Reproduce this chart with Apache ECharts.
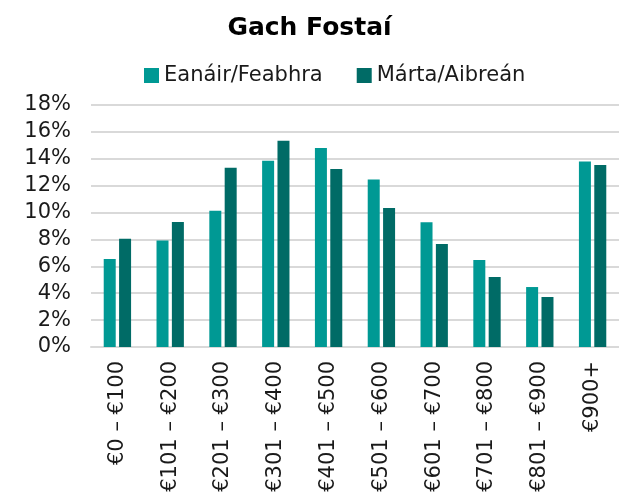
<!DOCTYPE html>
<html>
<head>
<meta charset="utf-8">
<script src="https://cdn.jsdelivr.net/npm/echarts@6/dist/echarts.min.js"></script>
<style>
  html, body { margin: 0; padding: 0; background: #fff; }
  #chart { width: 619px; height: 500px; }
</style>
</head>
<body>
<div id="chart"></div>
<script>
var categories = ['€0 – €100', '€101 – €200', '€201 – €300', '€301 – €400', '€401 – €500',
  '€501 – €600', '€601 – €700', '€701 – €800', '€801 – €900', '€900+'];
var janFeb = [6.55, 7.93, 10.14, 13.86, 14.81, 12.45, 9.27, 6.47, 4.46, 13.79];
var marApr = [8.06, 9.30, 13.34, 15.35, 13.24, 10.34, 7.66, 5.21, 3.72, 13.54];
var seriesNames = ['Eanáir/Feabhra', 'Márta/Aibreán'];

var font = "'DejaVu Sans', Verdana, sans-serif";
var chart = echarts.init(document.getElementById('chart'));

var option = {
  backgroundColor: '#ffffff',
  animation: false,
  title: {
    text: 'Gach Fostaí',
    left: 'center',
    top: 11,
    textStyle: { fontFamily: font, fontSize: 25, fontWeight: 'bold', color: '#000' }
  },
  legend: {
    data: seriesNames,
    left: 139,
    top: 60,
    itemWidth: 15,
    itemHeight: 15,
    itemGap: 34,
    icon: 'rect',
    textStyle: { fontFamily: font, fontSize: 21, color: '#1a1a1a' }
  },
  grid: { left: 91, right: -12, top: 105, bottom: 153, containLabel: false },
  xAxis: {
    type: 'category',
    data: categories,
    axisTick: { show: false },
    axisLine: { lineStyle: { color: '#d9d9d9', width: 2 } },
    axisLabel: {
      rotate: 90,
      interval: 0,
      margin: 14,
      fontFamily: font,
      fontSize: 21,
      color: '#1a1a1a'
    }
  },
  yAxis: {
    type: 'value',
    min: 0,
    max: 18,
    interval: 2,
    axisLine: { show: false },
    axisTick: { show: false },
    splitLine: { lineStyle: { color: '#d9d9d9', width: 2 } },
    axisLabel: {
      formatter: '{value}%',
      margin: 20,
      fontFamily: font,
      fontSize: 21,
      color: '#1a1a1a'
    }
  },
  series: [
    {
      name: seriesNames[0],
      type: 'bar',
      data: janFeb,
      barWidth: 12,
      barGap: '28%',
      itemStyle: { color: '#009994' }
    },
    {
      name: seriesNames[1],
      type: 'bar',
      data: marApr,
      barWidth: 12,
      itemStyle: { color: '#006b66' }
    }
  ]
};

chart.setOption(option);
</script>
</body>
</html>
